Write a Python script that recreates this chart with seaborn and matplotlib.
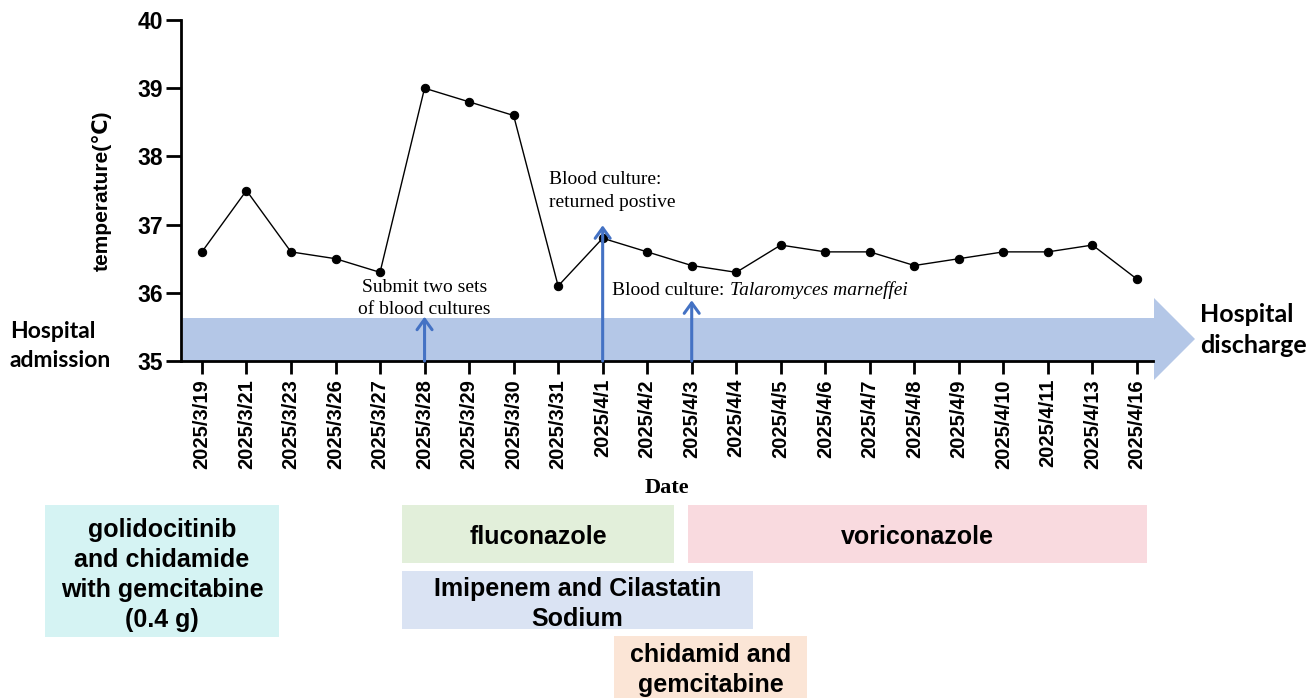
import matplotlib
matplotlib.use('Agg')
import matplotlib.pyplot as plt
import seaborn as sns
from matplotlib.patches import Rectangle, Polygon

# ---- data ----
dates = ['2025/3/19', '2025/3/21', '2025/3/23', '2025/3/26', '2025/3/27', '2025/3/28',
         '2025/3/29', '2025/3/30', '2025/3/31', '2025/4/1', '2025/4/2', '2025/4/3',
         '2025/4/4', '2025/4/5', '2025/4/6', '2025/4/7', '2025/4/8', '2025/4/9',
         '2025/4/10', '2025/4/11', '2025/4/13', '2025/4/16']
temps = [36.6, 37.5, 36.6, 36.5, 36.3, 39.0, 38.8, 38.6, 36.1, 36.8, 36.6, 36.4,
         36.3, 36.7, 36.6, 36.6, 36.4, 36.5, 36.6, 36.6, 36.7, 36.2]

event_dates = ['2025/3/28', '2025/4/1', '2025/4/3']
event_tips = [35.65, 36.99, 35.89]

treatments = ['golidocitinib\nand chidamide\nwith gemcitabine\n(0.4 g)',
              'fluconazole', 'voriconazole',
              'Imipenem and Cilastatin\nSodium', 'chidamid and\ngemcitabine']
treat_colors = ['#d5f3f3', '#e2efda', '#f9dadf', '#dae3f3', '#fbe5d6']

# ---- style ----
sns.set_style("ticks")
plt.rcParams['font.family'] = ['Liberation Sans', 'DejaVu Sans']
plt.rcParams['axes.linewidth'] = 2
for k in ['text.color', 'axes.labelcolor', 'xtick.color', 'ytick.color', 'axes.edgecolor']:
    plt.rcParams[k] = 'black'

W, H = 1309, 698
fig = plt.figure(figsize=(W / 100, H / 100), dpi=100)

# background layer in pixel coords (timeline arrow, treatment boxes, labels)
bg = fig.add_axes([0, 0, 1, 1], zorder=0)
bg.set_xlim(0, W)
bg.set_ylim(H, 0)
bg.axis('off')

band = Polygon([(183, 318), (1154, 318), (1154, 298), (1195, 339),
                (1154, 380), (1154, 361), (183, 361)],
               closed=True, facecolor='#b4c7e7', edgecolor='none')
bg.add_patch(band)

hosp_font = dict(family=['Lato', 'Liberation Sans'], fontweight='bold')
bg.text(10, 346, 'Hospital\nadmission', ha='left', va='center', linespacing=1.5,
        fontsize=16.5, **hosp_font)
bg.text(1200, 330, 'Hospital\ndischarge', ha='left', va='center', linespacing=1.4,
        fontsize=18, **hosp_font)

# treatment boxes (x0, y0, x1, y1) in pixels
box_layout = [(45, 505, 279, 637), (402, 505, 674, 563), (688, 505, 1147, 563),
              (402, 571, 753, 629), (614, 636, 807, 710)]
text_y = [575, 537, 537, 604, 670]
for lab, col, (x0, y0, x1, y1), ty in zip(treatments, treat_colors, box_layout, text_y):
    bg.add_patch(Rectangle((x0, y0), x1 - x0, y1 - y0, facecolor=col, edgecolor='none'))
    bg.text((x0 + x1) / 2, ty, lab, ha='center', va='center', fontsize=18,
            fontweight='bold', linespacing=1.3)

# main chart
ax = fig.add_axes([181 / W, (H - 361) / H, 972 / W, 341 / H], zorder=1)
ax.patch.set_alpha(0)

sns.lineplot(x=dates, y=temps, ax=ax, sort=False, color='black', lw=1.0,
             marker='o', markersize=6, markeredgecolor='black')

ax.set_ylim(35, 40)
ax.set_xlim(-0.47, 21.36)
ax.set_yticks([35, 36, 37, 38, 39, 40])
sns.despine(ax=ax)

ax.tick_params(axis='y', length=11, width=2, pad=2, labelsize=16.5)
ax.tick_params(axis='x', length=9, width=2, pad=4, labelsize=14.5, labelrotation=90)
for t in ax.get_xticklabels() + ax.get_yticklabels():
    t.set_fontweight('bold')

ax.set_ylabel('temperature(℃)', fontsize=15, fontweight='bold')
ax.yaxis.set_label_coords(-0.071, 0.5)
ax.set_xlabel('Date', fontsize=16, fontweight='bold', family='Liberation Serif')
ax.xaxis.set_label_coords(0.5, -0.342)

# event arrows
for d, tip in zip(event_dates, event_tips):
    i = dates.index(d)
    ax.annotate('', xy=(i, tip), xytext=(i, 35.0),
                arrowprops=dict(arrowstyle='->,head_length=0.5,head_width=0.36',
                                mutation_scale=15, color='#4472c4', lw=2.2,
                                shrinkA=0, shrinkB=0), zorder=4)

serif = dict(family='Liberation Serif', fontsize=14)
ax.text(dates.index('2025/3/28'), 35.92, 'Submit two sets\nof blood cultures',
        ha='center', va='center', linespacing=1.35, **serif)
ax.text(7.79, 37.79, 'Blood culture:\nreturned postive', ha='left', va='top',
        linespacing=1.45, **serif)
t1 = ax.text(9.22, 35.97, 'Blood culture: ', ha='left', va='baseline', **serif)
ax.annotate('Talaromyces marneffei', xy=(1, 0), xycoords=t1, ha='left', va='bottom',
            style='italic', **serif)

fig.savefig('out.png', dpi=100)
